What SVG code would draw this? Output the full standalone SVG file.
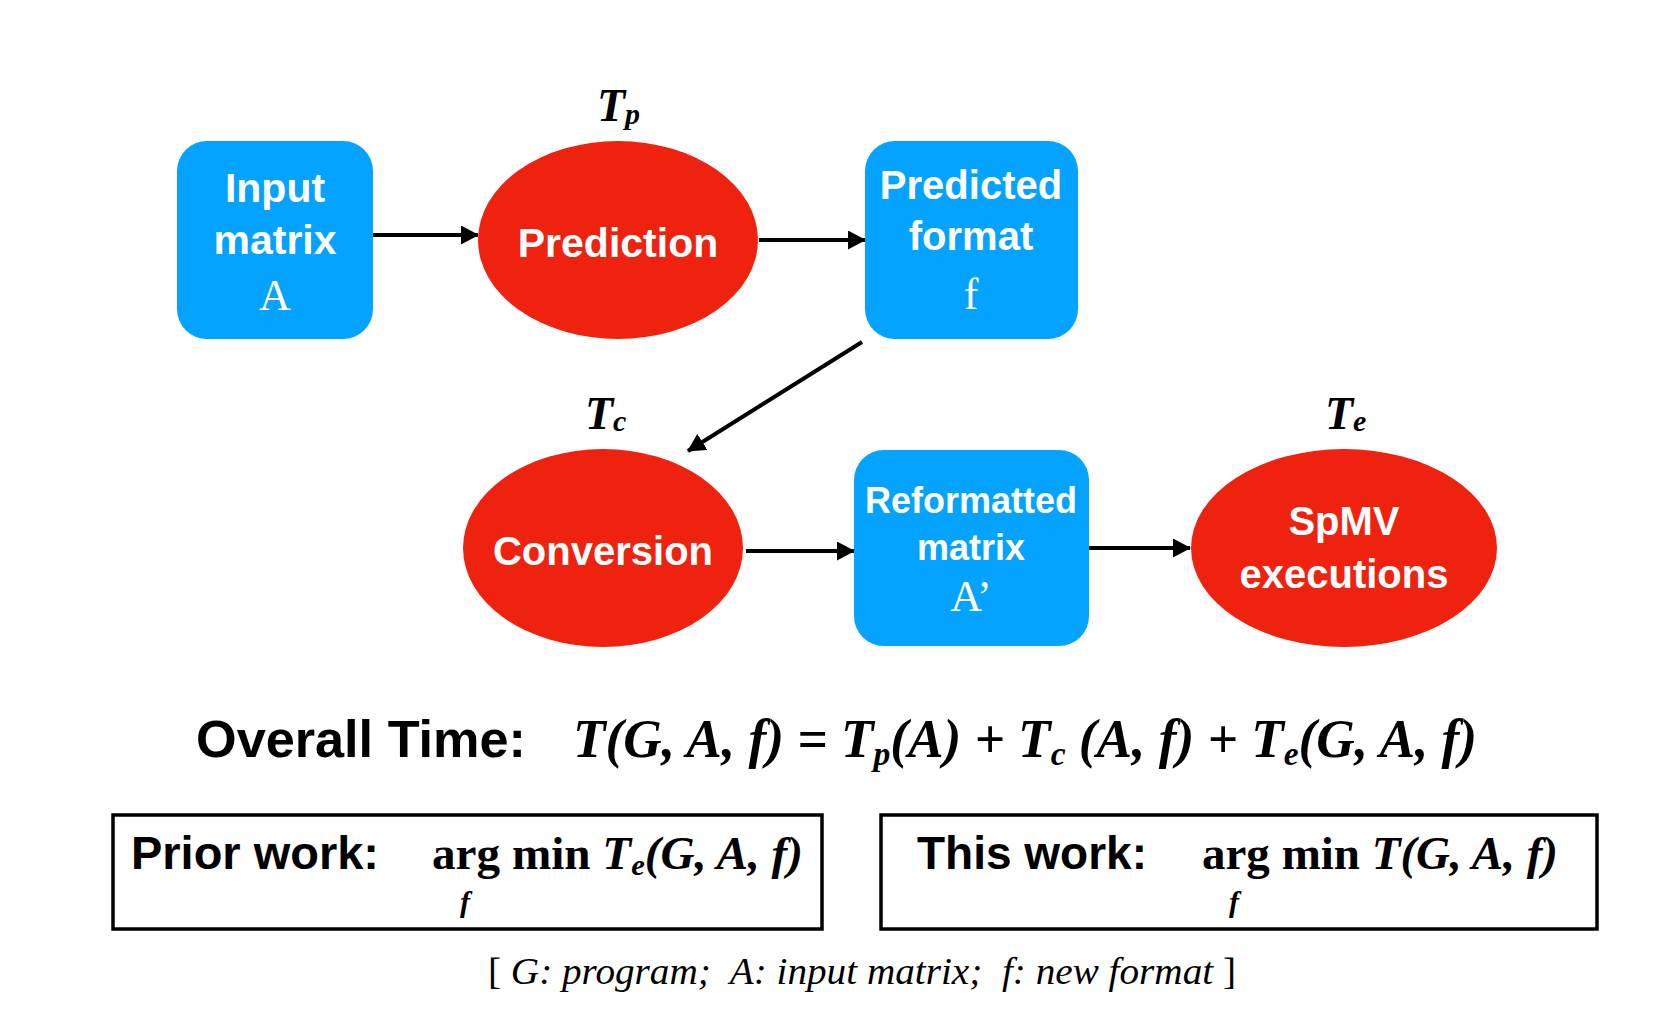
<svg xmlns="http://www.w3.org/2000/svg" width="1680" height="1036" viewBox="0 0 1680 1036">
<defs>
<marker id="ah" markerUnits="userSpaceOnUse" markerWidth="18" markerHeight="19" refX="17" refY="9.5" orient="auto">
<path d="M0,0 L18,9.5 L0,19 z" fill="#000"/>
</marker>
<style>
.box{fill:#03A3FF}
.ell{fill:#EE220F}
.lbl{font-family:"Liberation Sans",Arial,sans-serif;font-weight:bold;fill:#fff;text-anchor:middle}
.var{font-family:"Liberation Serif","Times New Roman",serif;fill:#fff;text-anchor:middle;font-size:44px}
.tl{font-family:"Liberation Serif","Times New Roman",serif;font-style:italic;font-weight:bold;fill:#000}
.conn{stroke:#000;stroke-width:4;fill:none;marker-end:url(#ah)}
.frm{font-family:"Liberation Serif","Times New Roman",serif;fill:#000;font-weight:bold}
.cap{font-family:"Liberation Serif","Times New Roman",serif;fill:#000}
.hd{font-family:"Liberation Sans",Arial,sans-serif;font-weight:bold;fill:#000}
.frame{fill:none;stroke:#000;stroke-width:3.5}
</style>
</defs>
<rect width="1680" height="1036" fill="#fff"/>

<g id="connectors">
<line class="conn" x1="373" y1="235" x2="478" y2="235"/>
<line class="conn" x1="759" y1="240" x2="865" y2="240"/>
<line class="conn" x1="862" y1="342" x2="688" y2="451"/>
<line class="conn" x1="746" y1="551" x2="854" y2="551"/>
<line class="conn" x1="1087" y1="548" x2="1190" y2="548"/>
</g>

<g id="input-matrix">
<rect class="box" x="177" y="141" width="196" height="198" rx="30"/>
<text class="lbl" x="275" y="202" font-size="41">Input</text>
<text class="lbl" x="275" y="254" font-size="41">matrix</text>
<text class="var" x="275" y="310">A</text>
</g>

<g id="prediction">
<ellipse class="ell" cx="618" cy="240" rx="140" ry="99"/>
<text class="lbl" x="618" y="257" font-size="41">Prediction</text>
<text class="tl" x="597" y="121" font-size="46">T<tspan font-size="30" dy="3">p</tspan></text>
</g>

<g id="predicted-format">
<rect class="box" x="865" y="141" width="213" height="198" rx="30"/>
<text class="lbl" x="971" y="199" font-size="40">Predicted</text>
<text class="lbl" x="971" y="250" font-size="40">format</text>
<text class="var" x="971" y="309">f</text>
</g>

<g id="conversion">
<ellipse class="ell" cx="603" cy="548" rx="140" ry="99"/>
<text class="lbl" x="603" y="565" font-size="40">Conversion</text>
<text class="tl" x="585" y="429" font-size="46">T<tspan font-size="30" dy="2">c</tspan></text>
</g>

<g id="reformatted-matrix">
<rect class="box" x="854" y="450" width="235" height="196" rx="30"/>
<text class="lbl" x="971" y="513" font-size="36">Reformatted</text>
<text class="lbl" x="971" y="560" font-size="36">matrix</text>
<text class="var" x="971" y="611">A’</text>
</g>

<g id="spmv">
<ellipse class="ell" cx="1344" cy="548" rx="153" ry="99"/>
<text class="lbl" x="1344" y="535" font-size="40">SpMV</text>
<text class="lbl" x="1344" y="588" font-size="40">executions</text>
<text class="tl" x="1325" y="429" font-size="46">T<tspan font-size="30" dy="2">e</tspan></text>
</g>

<g id="overall">
<text class="hd" x="196" y="757" font-size="52" textLength="330" lengthAdjust="spacingAndGlyphs">Overall Time:</text>
<text class="frm" x="573" y="757" font-size="54" font-style="italic" textLength="904" lengthAdjust="spacingAndGlyphs">T(G, A, f) = T<tspan font-size="34" dy="8">p</tspan><tspan dy="-8">(A) + T</tspan><tspan font-size="34" dy="8">c</tspan><tspan dy="-8"> (A, f) + T</tspan><tspan font-size="34" dy="8">e</tspan><tspan dy="-8">(G, A, f)</tspan></text>
</g>

<g id="prior-work">
<rect class="frame" x="113" y="815" width="709" height="114"/>
<text class="hd" x="131" y="869" font-size="46" textLength="248" lengthAdjust="spacingAndGlyphs">Prior work:</text>
<text class="frm" x="432" y="869" font-size="46" textLength="371" lengthAdjust="spacingAndGlyphs">arg min <tspan font-style="italic">T</tspan><tspan font-style="italic" font-size="30" dy="6">e</tspan><tspan font-style="italic" dy="-6">(G, A, f)</tspan></text>
<text class="frm" x="460" y="912" font-size="30" font-style="italic">f</text>
</g>

<g id="this-work">
<rect class="frame" x="881" y="815" width="716" height="114"/>
<text class="hd" x="917" y="869" font-size="46" textLength="230" lengthAdjust="spacingAndGlyphs">This work:</text>
<text class="frm" x="1202" y="869" font-size="46" textLength="356" lengthAdjust="spacingAndGlyphs">arg min <tspan font-style="italic">T(G, A, f)</tspan></text>
<text class="frm" x="1229" y="912" font-size="30" font-style="italic">f</text>
</g>

<text class="cap" x="488" y="984" font-size="38" textLength="748" lengthAdjust="spacingAndGlyphs" xml:space="preserve">[ <tspan font-style="italic">G: program;  A: input matrix;  f: new format</tspan> ]</text>
</svg>
